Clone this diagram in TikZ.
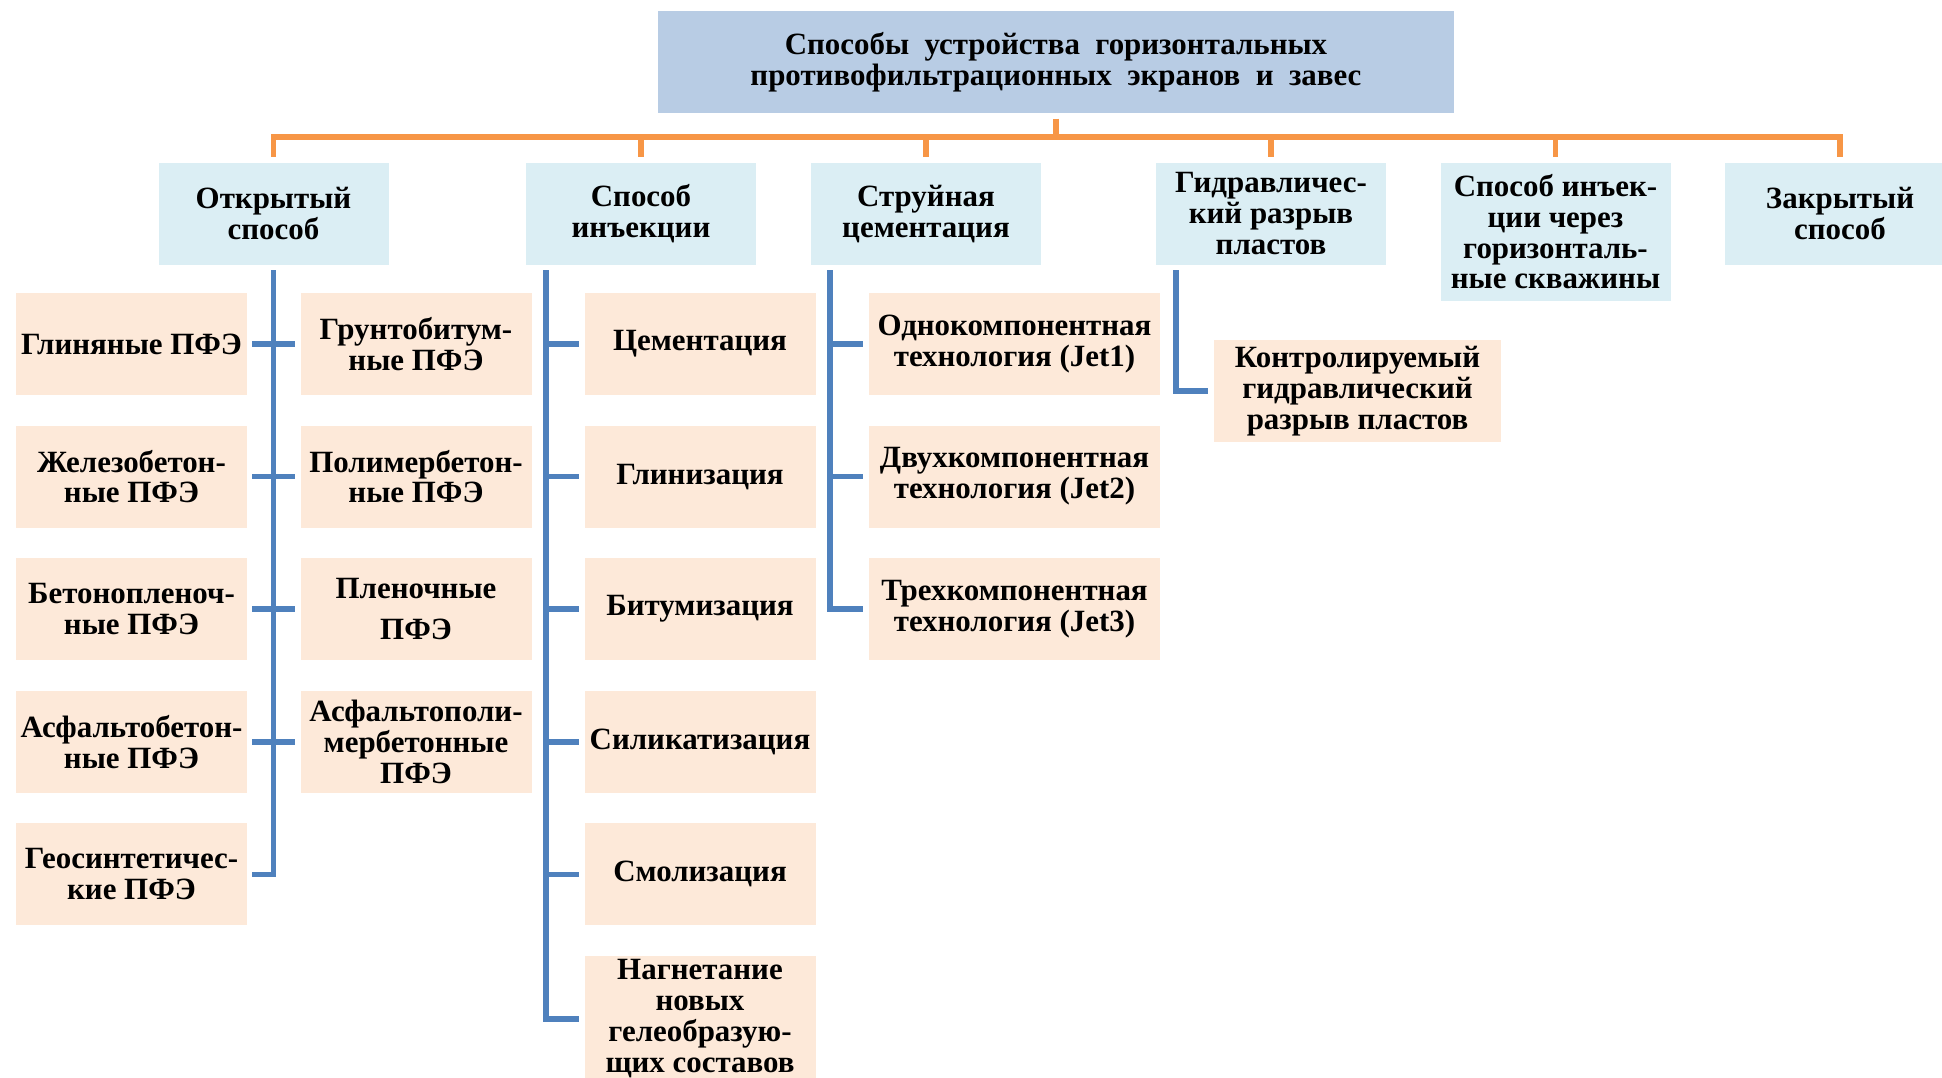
\documentclass[tikz,border=0pt]{standalone}
\usepackage{fontspec}
\setmainfont{Liberation Serif}
\usetikzlibrary{positioning,calc}
\definecolor{titleBlue}{RGB}{184,204,228}
\definecolor{methodBlue}{RGB}{219,238,244}
\definecolor{kindPeach}{RGB}{253,233,217}
\definecolor{lineOrange}{RGB}{247,150,70}
\definecolor{lineBlue}{RGB}{79,129,189}

\begin{document}
\begin{tikzpicture}[
    node distance=0.306cm,
    font=\bfseries\fontsize{8.8}{8.8}\selectfont,
    top/.style={rectangle, fill=titleBlue, minimum width=7.96cm, minimum height=1.02cm, align=center},
    method/.style={rectangle, fill=methodBlue, minimum width=2.3cm, minimum height=1.02cm, inner sep=1pt, align=center, anchor=north},
    kind/.style={rectangle, fill=kindPeach, minimum width=2.31cm, minimum height=1.02cm, inner sep=1pt, outer sep=0pt, align=center},
    wide/.style={kind, minimum width=2.91cm},
    tree/.style={line width=1.5pt, lineOrange},
    branch/.style={line width=1.6pt, lineBlue}
]
    \useasboundingbox (0,0) rectangle (19.42,-10.78);
    \node[top] (title) at (10.56,-0.62) {Способы\ \ устройства\ \ горизонтальных\\противофильтрационных\ \ экранов\ \ и\ \ завес};

    \node[method] (open) at (2.735,-1.62) {Открытый\\способ};
    \node[method] (inj) at (6.41,-1.62) {Способ\\инъекции};
    \node[method] (jet) at (9.26,-1.62) {Струйная\\цементация};
    \node[method] (hydro) at (12.71,-1.62) {Гидравличес-\\кий разрыв\\пластов};
    \node[method, minimum height=1.38cm] (horiz) at (15.555,-1.62) {Способ инъек-\\ции через\\горизонталь-\\ные скважины};
    \node[method] (closed) at (18.40,-1.62) {Закрытый\\способ};

    % open method
    \node[kind, anchor=north] (a1) at (1.315,-2.93) {Глиняные ПФЭ};
    \node[kind, below=of a1] (a2) {Железобетон-\\ные ПФЭ};
    \node[kind, below=of a2] (a3) {Бетонопленоч-\\ные ПФЭ};
    \node[kind, below=of a3] (a4) {Асфальтобетон-\\ные ПФЭ};
    \node[kind, below=of a4] (a5) {Геосинтетичес-\\кие ПФЭ};
    \node[kind, anchor=north] (b1) at (4.16,-2.93) {Грунтобитум-\\ные ПФЭ};
    \node[kind, below=of b1] (b2) {Полимербетон-\\ные ПФЭ};
    \node[kind, below=of b2] (b3) {Пленочные\\[3pt]ПФЭ};
    \node[kind, below=of b3] (b4) {Асфальтополи-\\мербетонные\\ПФЭ};

    % injection
    \node[kind, anchor=north] (c1) at (7.00,-2.93) {Цементация};
    \node[kind, below=of c1] (c2) {Глинизация};
    \node[kind, below=of c2] (c3) {Битумизация};
    \node[kind, below=of c3] (c4) {Силикатизация};
    \node[kind, below=of c4] (c5) {Смолизация};
    \node[kind, below=of c5] (c6) {Нагнетание\\новых\\гелеобразую-\\щих составов};

    % jet grouting
    \node[wide, anchor=north] (d1) at (10.145,-2.93) {Однокомпонентная\\технология (Jet1)};
    \node[wide, below=of d1] (d2) {Двухкомпонентная\\технология (Jet2)};
    \node[wide, below=of d2] (d3) {Трехкомпонентная\\технология (Jet3)};

    \node[wide, anchor=north, minimum width=2.87cm] (e1) at (13.575,-3.40) {Контролируемый\\гидравлический\\разрыв пластов};

    % orange bus
    \coordinate (bus) at (0,-1.37);
    \draw[tree] ([yshift=-0.05cm]title.south) -- (title.south |- bus);
    \draw[tree] ([yshift=0.05cm]open.north) |- (closed.north |- bus) -- ([yshift=0.05cm]closed.north);
    \foreach \n in {inj,jet,hydro,horiz}
        \draw[tree] ([yshift=0.05cm]\n.north) -- (\n.north |- bus);

    % blue branches
    \draw[branch] ([yshift=-0.05cm]open.south) |- ([xshift=0.05cm]a5.east);
    \foreach \i in {1,...,4}
        \draw[branch] ([xshift=0.05cm]a\i.east) -- ([xshift=-0.06cm]b\i.west);

    \coordinate (injT) at ([xshift=0.21cm,yshift=-0.05cm]inj.south west);
    \draw[branch] (injT) |- ([xshift=-0.06cm]c6.west);
    \foreach \i in {1,...,5}
        \draw[branch] (injT |- c\i.west) -- ([xshift=-0.06cm]c\i.west);

    \coordinate (jetT) at ([xshift=0.20cm,yshift=-0.05cm]jet.south west);
    \draw[branch] (jetT) |- ([xshift=-0.06cm]d3.west);
    \foreach \i in {1,2}
        \draw[branch] (jetT |- d\i.west) -- ([xshift=-0.06cm]d\i.west);

    \coordinate (hydroT) at ([xshift=0.21cm,yshift=-0.05cm]hydro.south west);
    \draw[branch] (hydroT) |- ([xshift=-0.06cm]e1.west);
\end{tikzpicture}
\end{document}
